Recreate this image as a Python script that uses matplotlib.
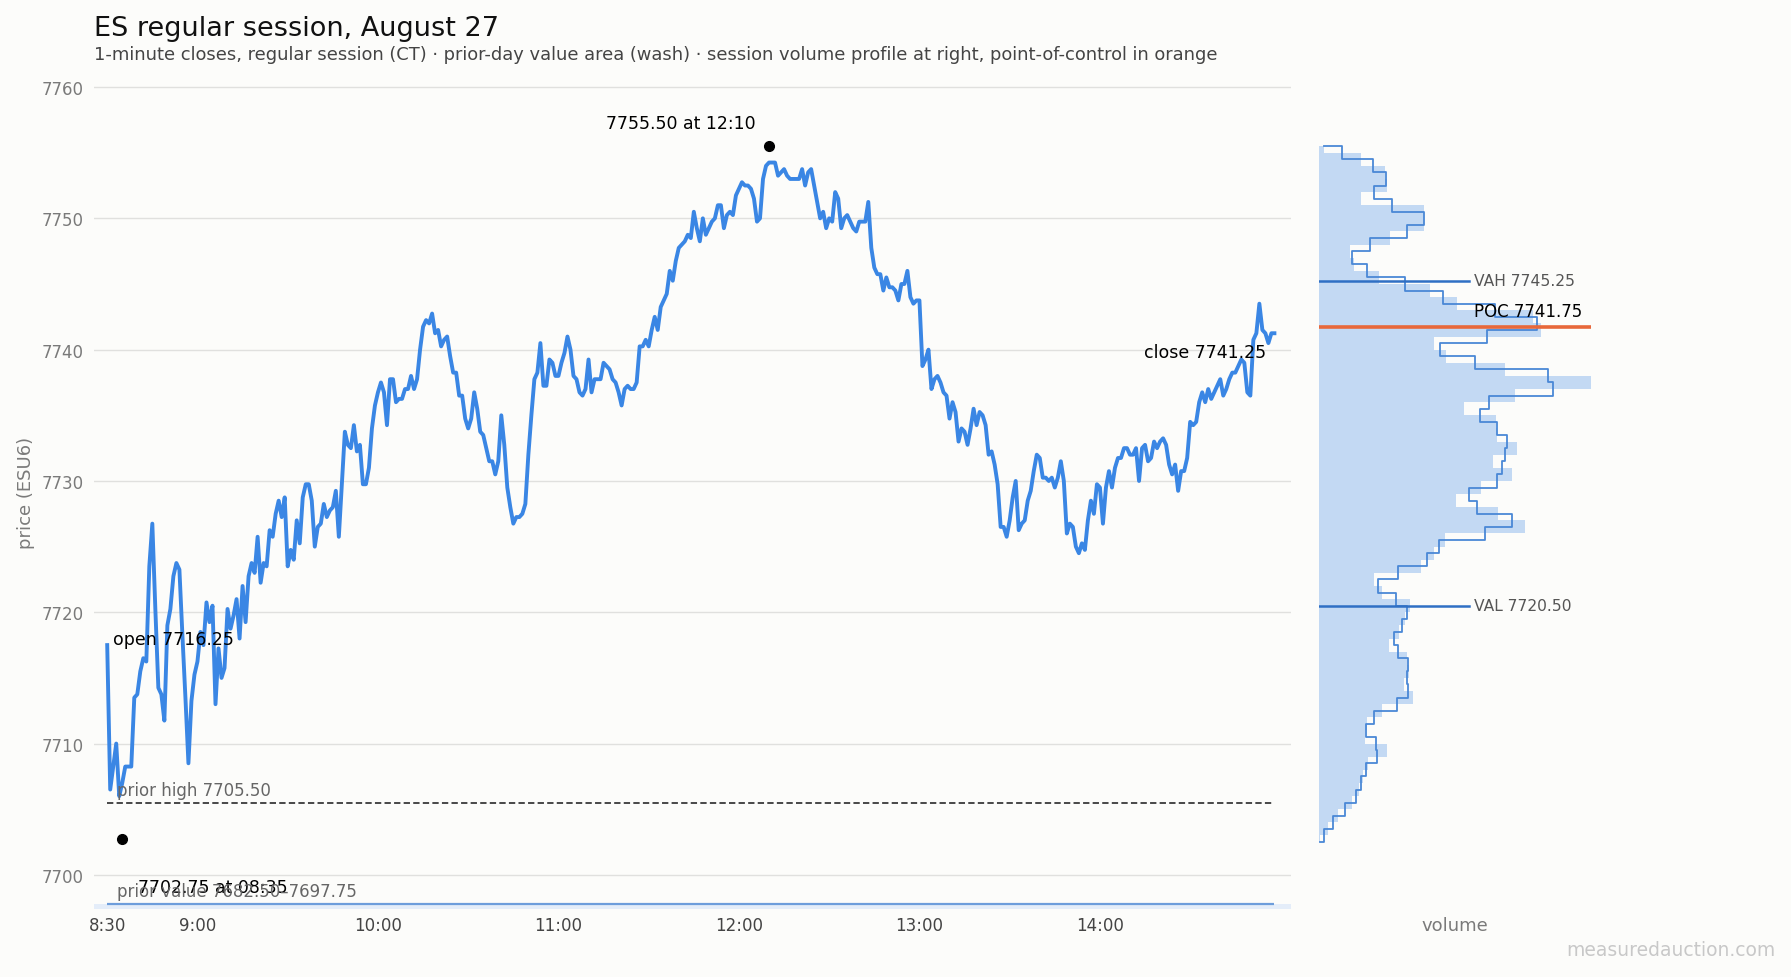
import numpy as np
import matplotlib
matplotlib.use("Agg")
import matplotlib.pyplot as plt

# 1-minute closes from 8:30 CT (one value per minute)
closes = [
    7717.5, 7706.5, 7708.25, 7710.0, 7706.0, 7707.0, 7708.25, 7708.25, 7708.25, 7713.5,
    7713.75, 7715.5, 7716.5, 7716.25, 7723.5, 7726.75, 7720.25, 7714.25, 7713.75, 7711.75,
    7719.0, 7720.25, 7722.75, 7723.75, 7723.25, 7718.25, 7713.5, 7708.5, 7713.25, 7715.25,
    7716.25, 7718.5, 7717.5, 7720.75, 7719.25, 7720.5, 7713.0, 7717.25, 7715.0, 7715.75,
    7720.25, 7718.75, 7719.75, 7721.0, 7718.0, 7722.0, 7719.25, 7722.75, 7723.75, 7723.0,
    7725.75, 7722.25, 7723.75, 7723.5, 7726.25, 7725.75, 7727.5, 7728.5, 7727.25, 7728.75,
    7723.5, 7724.75, 7724.0, 7727.0, 7725.25, 7728.75, 7729.75, 7729.75, 7728.5, 7725.0,
    7726.5, 7726.75, 7728.25, 7727.25, 7727.75, 7728.0, 7729.25, 7725.75, 7729.75, 7733.75,
    7732.75, 7732.5, 7734.25, 7732.25, 7732.75, 7729.75, 7729.75, 7731.0, 7734.0, 7735.75,
    7736.75, 7737.5, 7736.75, 7734.25, 7737.75, 7737.75, 7736.0, 7736.25, 7736.25, 7737.0,
    7737.0, 7738.0, 7737.0, 7737.75, 7740.0, 7741.75, 7742.25, 7742.0, 7742.75, 7741.25,
    7741.5, 7740.25, 7740.75, 7741.0, 7739.5, 7738.25, 7738.25, 7736.5, 7736.5, 7734.75,
    7734.0, 7734.75, 7736.75, 7735.5, 7733.75, 7733.5, 7732.5, 7731.5, 7731.5, 7730.5,
    7731.5, 7735.0, 7732.75, 7729.5, 7728.0, 7726.75, 7727.25, 7727.25, 7727.5, 7728.25,
    7732.0, 7735.0, 7737.75, 7738.25, 7740.5, 7737.25, 7737.25, 7739.25, 7739.0, 7738.0,
    7738.0, 7739.0, 7739.75, 7741.0, 7740.0, 7738.0, 7737.75, 7736.75, 7736.5, 7737.0,
    7739.25, 7736.75, 7737.75, 7737.75, 7737.75, 7739.0, 7738.75, 7738.5, 7737.75, 7737.5,
    7736.75, 7735.75, 7737.0, 7737.25, 7737.0, 7737.0, 7737.5, 7740.25, 7740.25, 7740.75,
    7740.25, 7741.5, 7742.5, 7741.5, 7743.25, 7743.75, 7744.25, 7746.0, 7745.25, 7746.75,
    7747.75, 7748.0, 7748.25, 7748.75, 7748.5, 7750.5, 7749.25, 7748.25, 7750.0, 7748.75,
    7749.25, 7749.75, 7750.0, 7751.0, 7751.0, 7749.25, 7750.25, 7750.5, 7750.25, 7751.75,
    7752.25, 7752.75, 7752.5, 7752.5, 7752.25, 7751.5, 7749.75, 7750.0, 7753.0, 7754.0,
    7754.25, 7754.25, 7754.25, 7753.25, 7753.5, 7753.75, 7753.25, 7753.0, 7753.0, 7753.0,
    7753.0, 7753.75, 7752.5, 7753.5, 7753.75, 7752.5, 7751.25, 7750.0, 7750.5, 7749.25,
    7750.0, 7749.75, 7752.0, 7751.5, 7749.25, 7750.0, 7750.25, 7749.75, 7749.25, 7749.0,
    7749.75, 7749.75, 7749.75, 7751.25, 7747.75, 7746.25, 7745.75, 7745.75, 7744.5, 7745.5,
    7744.75, 7744.75, 7744.5, 7743.75, 7745.0, 7745.0, 7746.0, 7744.0, 7743.5, 7743.75,
    7743.75, 7738.75, 7739.25, 7740.0, 7737.0, 7737.75, 7738.0, 7737.5, 7736.75, 7736.5,
    7734.75, 7736.0, 7735.25, 7733.0, 7734.0, 7733.75, 7732.75, 7734.0, 7735.5, 7734.25,
    7735.25, 7735.0, 7734.25, 7732.0, 7732.25, 7731.25, 7729.75, 7726.5, 7726.5, 7725.75,
    7727.0, 7728.75, 7730.0, 7726.25, 7726.75, 7727.0, 7728.5, 7729.25, 7730.75, 7732.0,
    7731.75, 7730.25, 7730.25, 7730.0, 7730.25, 7729.5, 7730.25, 7731.5, 7730.0, 7726.0,
    7726.75, 7726.5, 7725.0, 7724.5, 7725.25, 7724.75, 7727.0, 7728.5, 7727.5, 7729.75,
    7729.5, 7726.75, 7729.5, 7730.75, 7729.5, 7731.0, 7731.75, 7731.75, 7732.5, 7732.5,
    7732.0, 7732.0, 7732.5, 7730.0, 7732.5, 7732.75, 7731.5, 7731.75, 7733.0, 7732.5,
    7733.0, 7733.25, 7732.75, 7731.25, 7730.5, 7731.25, 7729.25, 7730.75, 7730.75, 7731.75,
    7734.5, 7734.25, 7734.5, 7736.0, 7736.75, 7736.0, 7737.0, 7736.25, 7736.75, 7737.25,
    7737.75, 7736.5, 7737.0, 7737.75, 7738.25, 7738.25, 7738.75, 7739.25, 7739.0, 7736.75,
    7736.5, 7740.75, 7741.25, 7743.5, 7741.5, 7741.25, 7740.5, 7741.25, 7741.25,
]

session_open = 7716.25
high_price, high_minute = 7755.50, 220   # 12:10
low_price, low_minute = 7702.75, 5       # 08:35
prior_high = 7705.50
prior_val, prior_vah = 7682.50, 7697.75

tick_minutes = [0, 30, 90, 150, 210, 270, 330]
tick_labels = ["8:30", "9:00", "10:00", "11:00", "12:00", "13:00", "14:00"]

# session volume profile, one row per point (top to bottom)
profile_prices = np.arange(7755.5, 7702.0, -1.0)
profile_volume = [
    150, 1250, 1980, 2030, 1250, 3150, 3150, 2130, 930, 1050,
    1800, 3330, 4130, 6430, 6660, 3450, 3800, 5580, 8160, 5880,
    4350, 5310, 5350, 5950, 5210, 5790, 4870, 4100, 5380, 6180,
    3780, 3440, 3060, 1660, 1890, 2730, 2570, 2390, 2110, 2650,
    2710, 2550, 2810, 1890, 1430, 1380, 2030, 1460, 1330, 1210,
    1000, 560, 280, 20,
]
vah, val, poc = 7745.25, 7720.50, 7741.75

BG = "#fcfcfa"
LINE = "#3a86e4"

minutes = np.arange(len(closes))

fig = plt.figure(figsize=(17.91, 9.78), dpi=100, facecolor=BG)
ax = fig.add_axes([0.0523, 0.0691, 0.6685, 0.8543], facecolor=BG)
axp = fig.add_axes([0.7365, 0.0691, 0.1518, 0.8543], facecolor=BG, sharey=ax)

# prior-day value area wash and reference lines
ax.axhspan(prior_val, prior_vah, color="#e4edf9", lw=0, zorder=0)
ax.hlines(prior_vah, minutes[0], minutes[-1], color="#6d9ddb", lw=1.6, zorder=1)
ax.hlines(prior_high, minutes[0], minutes[-1], color="#3a3a3a", lw=1.3,
          linestyles=(0, (3.5, 1.8)), zorder=1)

ax.plot(minutes, closes, color=LINE, lw=2.8, zorder=3)

ax.plot(high_minute, high_price, "o", color="black", ms=7, zorder=4)
ax.plot(low_minute, low_price, "o", color="black", ms=7, zorder=4)

ax.annotate(f"{high_price:.2f} at 12:10", (high_minute, high_price),
            xytext=(-10, 10), textcoords="offset points",
            ha="right", va="bottom", fontsize=12.5, color="black")
ax.annotate(f"{low_price:.2f} at 08:35", (low_minute, low_price),
            xytext=(11, -28), textcoords="offset points",
            ha="left", va="top", fontsize=12.5, color="black")
ax.annotate(f"open {session_open:.2f}", (minutes[0], session_open),
            xytext=(4, 10), textcoords="offset points",
            ha="left", va="bottom", fontsize=12.5, color="black")
ax.annotate(f"close {closes[-1]:.2f}", (minutes[-1], closes[-1]),
            xytext=(-6, -7), textcoords="offset points",
            ha="right", va="top", fontsize=12.5, color="black")
ax.annotate(f"prior high {prior_high:.2f}", (minutes[0], prior_high),
            xytext=(7, 3), textcoords="offset points",
            ha="left", va="bottom", fontsize=12, color="#666666")
ax.annotate(f"prior value {prior_val:.2f}\u2013{prior_vah:.2f}", (minutes[0], prior_vah),
            xytext=(7, 3), textcoords="offset points",
            ha="left", va="bottom", fontsize=12, color="#666666")

ax.set_xlim(-4.5, 393.5)
ax.set_ylim(7697.37, 7761)
ax.set_yticks(range(7700, 7761, 10))
ax.set_xticks(tick_minutes)
ax.set_xticklabels(tick_labels)
ax.grid(axis="y", color="#e0e0de", lw=1.0)
ax.set_axisbelow(True)
for s in ax.spines.values():
    s.set_visible(False)
ax.tick_params(axis="x", length=0, pad=5, labelsize=12, labelcolor="#444444")
ax.tick_params(axis="y", length=0, pad=7, labelsize=12, labelcolor="#7a7a7a")
ax.set_ylabel("price (ESU6)", fontsize=13, color="#7a7a7a", labelpad=5)

# volume profile
axp.fill_betweenx(profile_prices, 0, profile_volume, step="mid",
                  color="#c3d9f3", lw=0, zorder=1)
axp.step(profile_volume, profile_prices, where="mid", color="#4a88d6", lw=1.3, zorder=2)
axp.axhline(vah, xmin=0, xmax=0.55, color="#2f6fc4", lw=1.8, zorder=3)
axp.axhline(val, xmin=0, xmax=0.55, color="#2f6fc4", lw=1.8, zorder=3)
axp.axhline(poc, color="#e8683a", lw=2.6, zorder=3)
axp.text(0.57, vah, f"VAH {vah:.2f}", transform=axp.get_yaxis_transform(),
         ha="left", va="center", fontsize=11.2, color="#555555")
axp.text(0.57, val, f"VAL {val:.2f}", transform=axp.get_yaxis_transform(),
         ha="left", va="center", fontsize=11.2, color="#555555")
axp.annotate(f"POC {poc:.2f}", (0.57, poc), xycoords=axp.get_yaxis_transform(),
             xytext=(0, 5), textcoords="offset points",
             ha="left", va="bottom", fontsize=12, color="black")
axp.set_xlim(0, max(profile_volume))
axp.set_xticks([])
axp.tick_params(axis="y", left=False, labelleft=False)
for s in axp.spines.values():
    s.set_visible(False)
axp.set_xlabel("volume", fontsize=13, color="#7a7a7a", labelpad=5)

fig.text(93.7 / 1791, 1 - 36 / 978, "ES regular session, August 27",
         fontsize=19.5, color="#111111", ha="left", va="baseline")
fig.text(93.7 / 1791, 1 - 60 / 978,
         "1-minute closes, regular session (CT) \u00b7 prior-day value area (wash) \u00b7 "
         "session volume profile at right, point-of-control in orange",
         fontsize=12.9, color="#444444", ha="left", va="baseline")
fig.text(1776 / 1791, 1 - 951 / 978, "measuredauction.com", fontsize=13.5,
         color="#c8c8c8", ha="right", va="center")

fig.savefig("out.png", dpi=100, facecolor=BG)
